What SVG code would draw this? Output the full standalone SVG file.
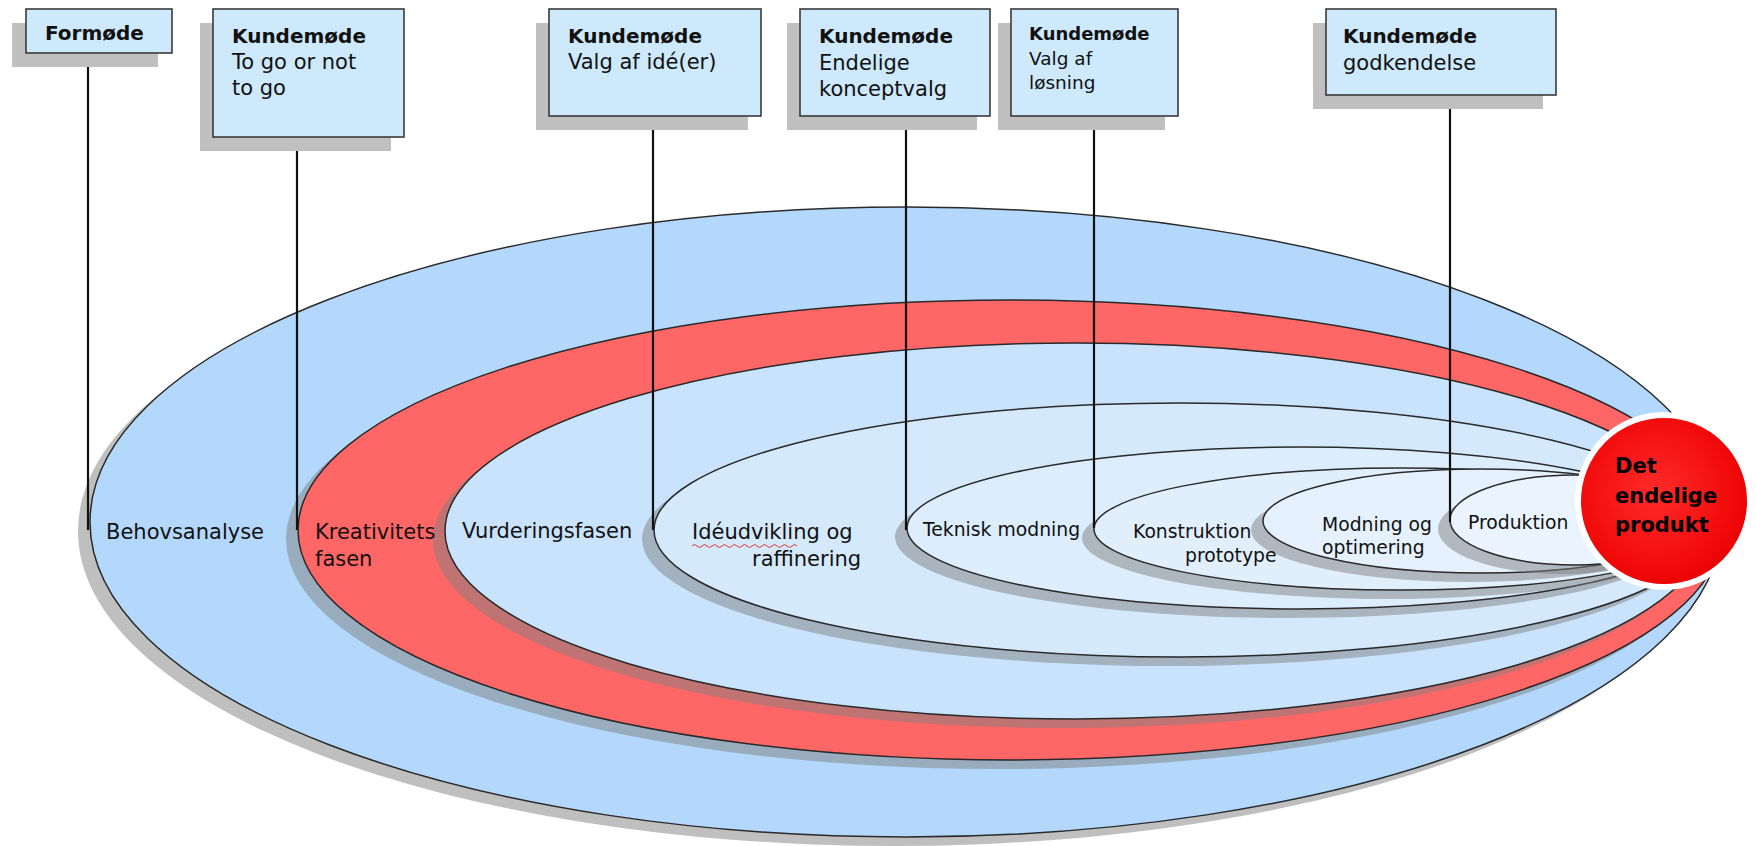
<svg xmlns="http://www.w3.org/2000/svg" width="1756" height="846" viewBox="0 0 1756 846">
<defs>
<style>
.bg{fill:#ffffff}
.sh{fill:#808080;fill-opacity:0.5}
.ph{stroke:#2a2a2a;stroke-width:1.5}
.box{fill:#cde9fb;stroke:#3a3a3a;stroke-width:1.6}
.bsh{fill:#c0c0c0}
.conn{stroke:#111;stroke-width:2.2;fill:none}
text{font-family:"DejaVu Sans","Liberation Sans",sans-serif;fill:#111}
.b{font-weight:bold;font-size:20px}
.r{font-size:21px}
.bs{font-weight:bold;font-size:18px}
.rs{font-size:18.5px}
.lbl{font-size:21px}
.lbls{font-size:18.8px}
.prod{font-weight:bold;font-size:21px;fill:#000}
</style>
<radialGradient id="redg" cx="0.45" cy="0.45" r="0.6">
<stop offset="0" stop-color="#ff2b2b"/>
<stop offset="0.7" stop-color="#f20c0c"/>
<stop offset="1" stop-color="#e60000"/>
</radialGradient>
</defs>
<rect class="bg" x="0" y="0" width="1756" height="846"/>

<g id="phase-behovsanalyse">
<ellipse class="sh" cx="894" cy="531" rx="816" ry="315"/>
<ellipse class="ph" cx="906" cy="522" rx="816" ry="315" fill="#b3d8fb"/>
</g>
<g id="phase-kreativitet">
<ellipse class="sh" cx="998" cy="539" rx="712" ry="230"/>
<ellipse class="ph" cx="1010" cy="530" rx="712" ry="230" fill="#ff6666"/>
</g>
<g id="phase-vurdering">
<ellipse class="sh" cx="1063" cy="540" rx="630" ry="188"/>
<ellipse class="ph" cx="1075" cy="531" rx="630" ry="188" fill="#c9e3fc"/>
</g>
<g id="phase-ideudvikling">
<ellipse class="sh" cx="1168" cy="539" rx="526" ry="127"/>
<ellipse class="ph" cx="1180" cy="530" rx="526" ry="127" fill="#d5e9fc"/>
</g>
<g id="phase-teknisk">
<ellipse class="sh" cx="1288" cy="537" rx="393" ry="81"/>
<ellipse class="ph" cx="1300" cy="528" rx="393" ry="81" fill="#dcedfd"/>
</g>
<g id="phase-konstruktion">
<ellipse class="sh" cx="1388" cy="538" rx="306" ry="61"/>
<ellipse class="ph" cx="1400" cy="529" rx="306" ry="61" fill="#e1effd"/>
</g>
<g id="phase-modning">
<ellipse class="sh" cx="1469" cy="530" rx="218" ry="52"/>
<ellipse class="ph" cx="1481" cy="521" rx="218" ry="52" fill="#e5f1fe"/>
</g>
<g id="phase-produktion">
<ellipse class="sh" cx="1563" cy="529" rx="125" ry="45"/>
<ellipse class="ph" cx="1575" cy="520" rx="125" ry="45" fill="#e9f4fe"/>
</g>

<g id="connectors">
<line class="conn" x1="88" y1="53" x2="88" y2="530"/>
<line class="conn" x1="297" y1="137" x2="297" y2="530"/>
<line class="conn" x1="653" y1="116" x2="653" y2="530"/>
<line class="conn" x1="906" y1="116" x2="906" y2="530"/>
<line class="conn" x1="1094" y1="116" x2="1094" y2="528"/>
<line class="conn" x1="1450" y1="95" x2="1450" y2="522"/>
</g>

<g id="labels">
<text class="lbl" x="106" y="539">Behovsanalyse</text>
<text class="lbl" x="315" y="539">Kreativitets</text>
<text class="lbl" x="315" y="566">fasen</text>
<text class="lbl" x="462" y="538">Vurderingsfasen</text>
<text class="lbl" x="692" y="539">Idéudvikling og</text>
<path d="M692 546 q2.5 -3 5 0 t5 0 t5 0 t5 0 t5 0 t5 0 t5 0 t5 0 t5 0 t5 0 t5 0 t5 0 t5 0 t5 0 t5 0 t5 0 t5 0 t5 0 t5 0 t5 0 t5 0" fill="none" stroke="#e03030" stroke-width="1"/>
<text class="lbl" x="752" y="566">raffinering</text>
<text class="lbls" x="923" y="536">Teknisk modning</text>
<text class="lbls" x="1133" y="538">Konstruktion</text>
<text class="lbls" x="1185" y="562">prototype</text>
<text class="lbls" x="1322" y="531">Modning og</text>
<text class="lbls" x="1322" y="554">optimering</text>
<text class="lbls" x="1468" y="529">Produktion</text>
</g>

<g id="node-produkt">
<circle cx="1664" cy="501" r="86" fill="url(#redg)" stroke="#ffffff" stroke-width="6"/>
<text class="prod" x="1615" y="473">Det</text>
<text class="prod" x="1615" y="503">endelige</text>
<text class="prod" x="1615" y="532">produkt</text>
</g>

<g id="box-formode">
<rect class="bsh" x="12" y="23" width="146" height="44"/>
<rect class="box" x="26" y="9" width="146" height="44"/>
<text class="b" x="45" y="40">Formøde</text>
</g>
<g id="box-togo">
<rect class="bsh" x="200" y="23" width="191" height="128"/>
<rect class="box" x="213" y="9" width="191" height="128"/>
<text class="b" x="232" y="43">Kundemøde</text>
<text class="r" x="232" y="69">To go or not</text>
<text class="r" x="232" y="95">to go</text>
</g>
<g id="box-valg-ide">
<rect class="bsh" x="536" y="23" width="212" height="107"/>
<rect class="box" x="549" y="9" width="212" height="107"/>
<text class="b" x="568" y="43">Kundemøde</text>
<text class="r" x="568" y="69">Valg af idé(er)</text>
</g>
<g id="box-koncept">
<rect class="bsh" x="787" y="23" width="190" height="107"/>
<rect class="box" x="800" y="9" width="190" height="107"/>
<text class="b" x="819" y="43">Kundemøde</text>
<text class="r" x="819" y="70">Endelige</text>
<text class="r" x="819" y="96">konceptvalg</text>
</g>
<g id="box-losning">
<rect class="bsh" x="998" y="23" width="167" height="107"/>
<rect class="box" x="1011" y="9" width="167" height="107"/>
<text class="bs" x="1029" y="40">Kundemøde</text>
<text class="rs" x="1029" y="65">Valg af</text>
<text class="rs" x="1029" y="89">løsning</text>
</g>
<g id="box-godkendelse">
<rect class="bsh" x="1313" y="23" width="230" height="86"/>
<rect class="box" x="1326" y="9" width="230" height="86"/>
<text class="b" x="1343" y="43">Kundemøde</text>
<text class="r" x="1343" y="70">godkendelse</text>
</g>
</svg>
